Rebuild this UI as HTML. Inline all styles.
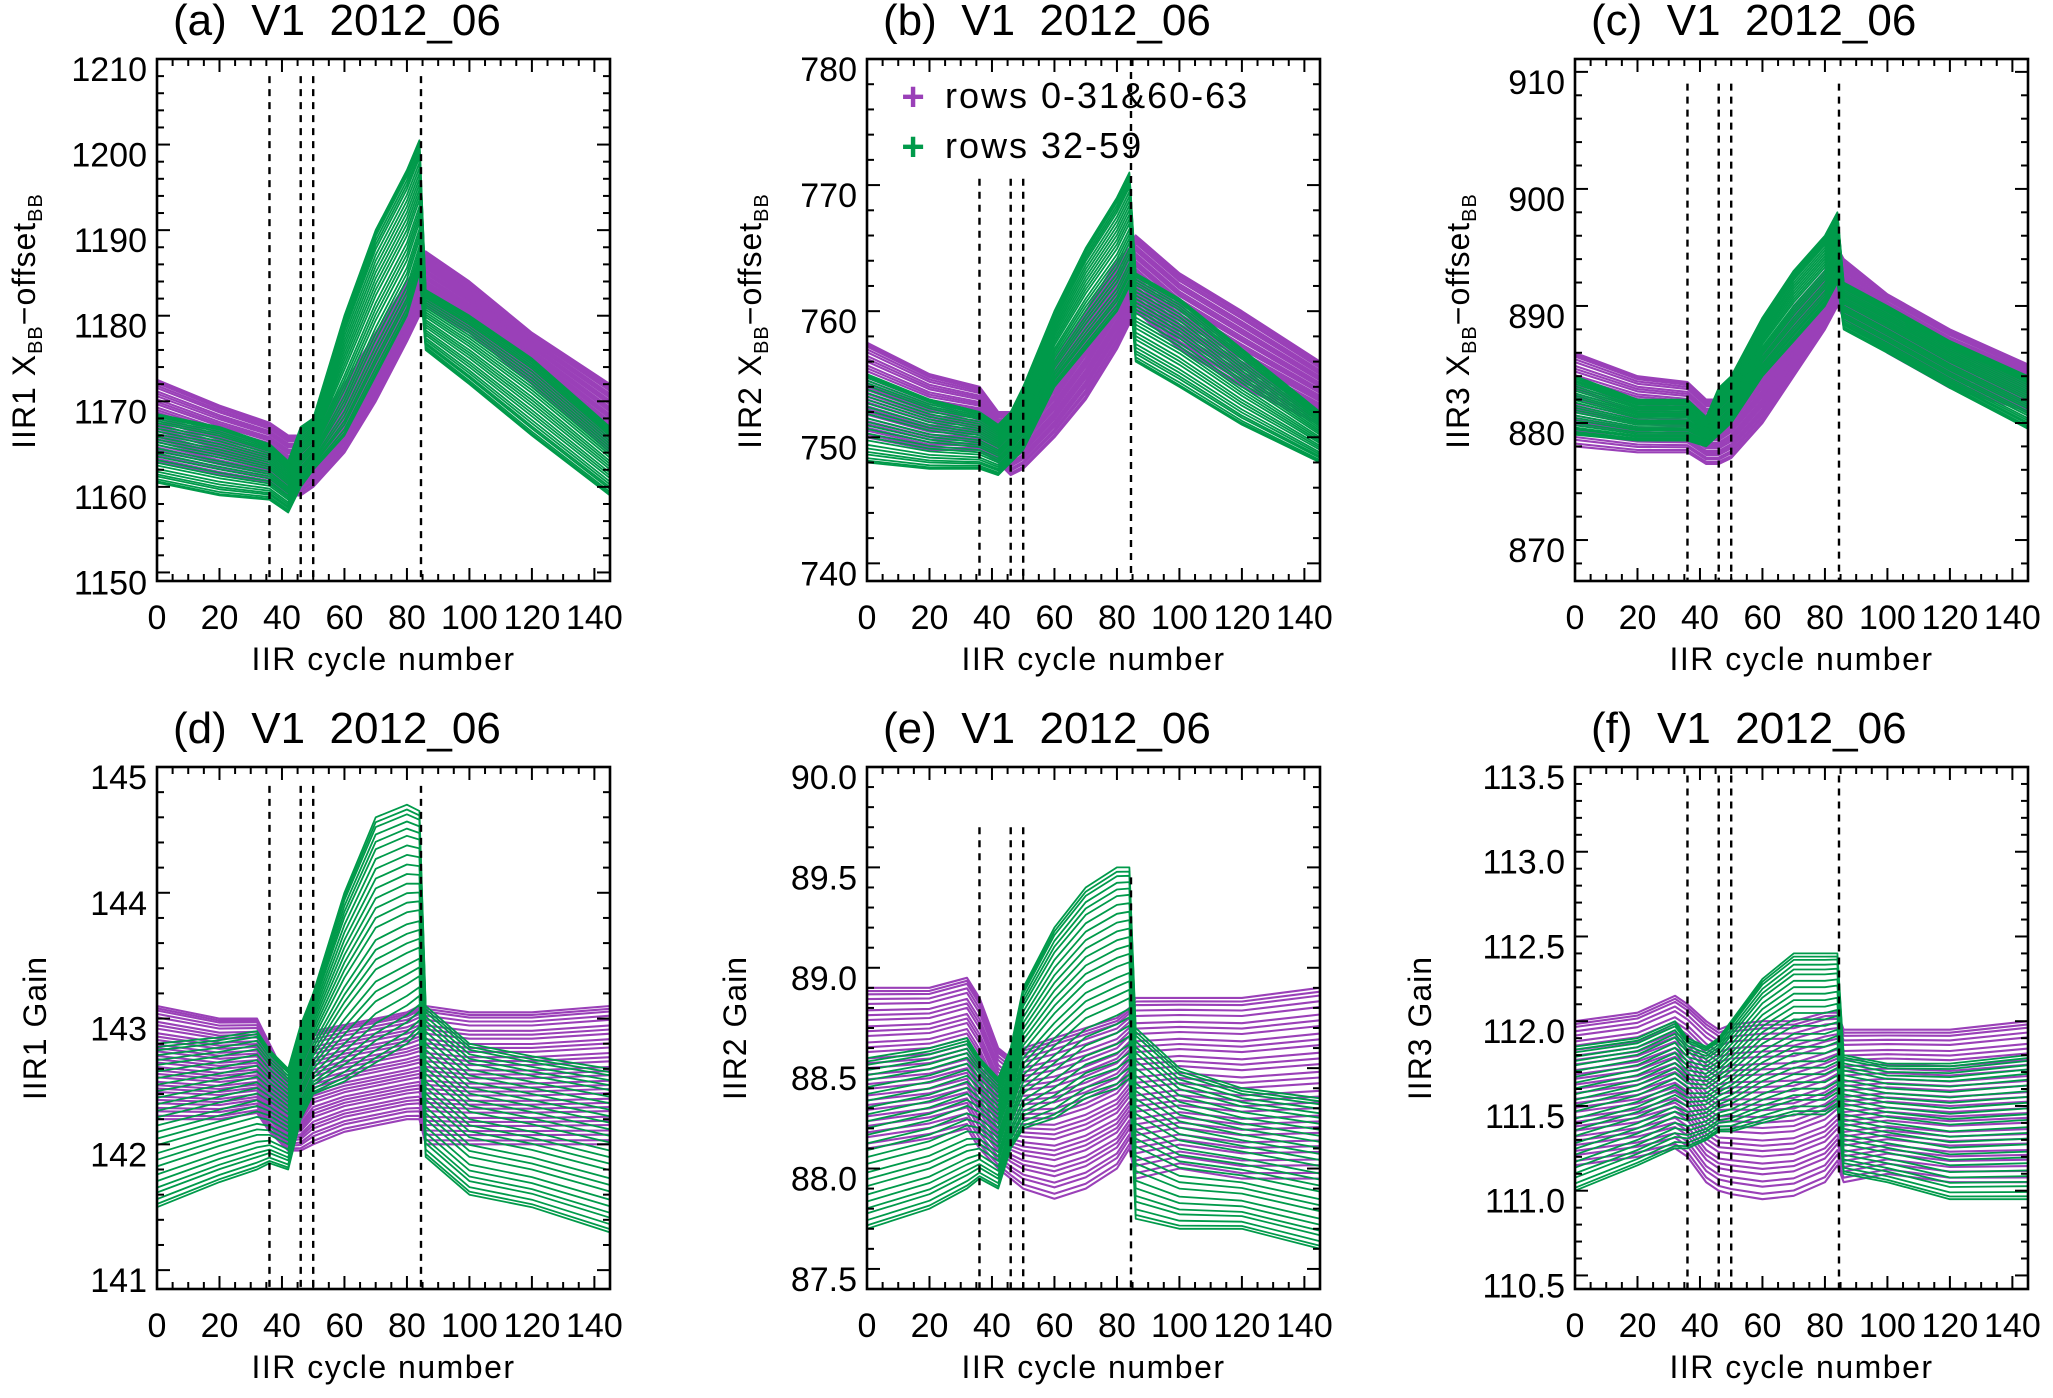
<!DOCTYPE html>
<html><head><meta charset="utf-8">
<style>
html,body{margin:0;padding:0;background:#fff;}
svg{display:block;font-family:"Liberation Sans",sans-serif;}
</style></head>
<body>
<svg id="fig" width="2053" height="1398" viewBox="0 0 2053 1398" xmlns="http://www.w3.org/2000/svg">
<rect x="0" y="0" width="2053" height="1398" fill="#fff"/>
</svg>
<script>
// ---------- data ----------
const xKeysTop = [0,20,36,42,46,50,60,70,80,84,86,100,120,145];
const xKeysBot = [0,20,32,36,42,46,50,60,70,80,84,86,100,120,145];

const aPurpleTop = [1172.5,1169.5,1167.5,1166,1166,1167,1172,1178,1184,1186,1187.5,1184,1178,1172];
const aPurpleBot = [1163,1161.5,1160.5,1159,1159,1160,1164,1170,1177,1180,1181,1178,1172,1164];
const aGreenTop  = [1168.5,1167,1165,1163,1167,1168,1180,1190,1197,1200.5,1183,1180,1175,1167];
const aGreenBot  = [1160.5,1159,1158.5,1157,1160,1162,1166,1173,1180,1185,1176,1172,1166,1159];

const bPurpleTop = [757.5,755,754,752,752,753,756,760,764,765,766,763,760,756];
const bPurpleBot = [750,749,749,748,747,747.5,750,753,757,759,760,757,754,751];
const bGreenTop  = [755,753,752,751,752,754,760,765,769,771,763,761,757,752];
const bGreenBot  = [748,747.5,747.5,747,748,749,754,757,760,762,756,754,751,748];

const cPurpleTop = [886,884,883.5,882,882,883,886,890,893,895,894,891,888,885];
const cPurpleBot = [878,877.5,877.5,876.5,876.5,877,880,884,888,890,889,886,883,881];
const cGreenTop  = [884,882,882,880.5,883,884,889,893,896,898,892,890,887,884];
const cGreenBot  = [879,878.5,878.5,878,879,880,884,887,890,892,888,886,883,879.5];

const dPurpleTop = [143.1,143.0,143.0,142.8,142.5,142.6,142.9,142.95,143.0,143.05,143.1,143.1,143.05,143.05,143.1];
const dPurpleBot = [142.2,142.2,142.25,142.1,141.95,141.95,142.0,142.1,142.15,142.2,142.2,142.0,142.0,142.0,142.0];
const dGreenTop  = [142.8,142.85,142.9,142.75,142.6,142.95,143.2,144.0,144.6,144.7,144.65,143.1,142.8,142.7,142.6];
const dGreenBot  = [141.5,141.7,141.8,141.85,141.8,142.2,142.4,142.5,142.65,142.8,142.9,141.9,141.6,141.5,141.3];

const ePurpleTop = [88.9,88.9,88.95,88.85,88.6,88.55,88.6,88.65,88.7,88.75,88.8,88.85,88.85,88.85,88.9];
const ePurpleBot = [88.1,88.15,88.2,88.1,88.0,87.95,87.9,87.85,87.9,88.0,88.1,87.95,88.0,87.95,87.95];
const eGreenTop  = [88.55,88.6,88.65,88.55,88.45,88.6,88.9,89.2,89.4,89.5,89.5,88.7,88.5,88.4,88.35];
const eGreenBot  = [87.7,87.8,87.9,87.95,87.9,88.1,88.2,88.25,88.35,88.4,88.45,87.75,87.7,87.7,87.6];

const fPurpleTop = [112.0,112.05,112.15,112.1,112.0,111.95,111.98,112.0,112.0,112.05,112.05,111.95,111.95,111.95,112.0];
const fPurpleBot = [111.15,111.2,111.25,111.2,111.05,111.0,110.98,110.95,110.97,111.05,111.15,111.05,111.1,111.05,111.05];
const fGreenTop  = [111.85,111.9,112.0,111.9,111.85,111.9,112.0,112.25,112.4,112.4,112.4,111.8,111.75,111.75,111.8];
const fGreenBot  = [111.0,111.15,111.25,111.25,111.3,111.35,111.35,111.4,111.45,111.45,111.5,111.1,111.05,110.95,110.95];

// row positions within each band (0 = bottom envelope, 1 = top envelope)
const purpleRows = [0,0.03,0.07,0.1,0.14,0.17,0.2,0.24,0.27,0.3,0.33,0.37,0.4,0.43,0.46,0.5,0.53,0.56,0.6,0.63,0.66,0.7,0.73,0.76,0.8,0.83,0.86,0.9,0.93,0.96,0.98,1];
const greenRows  = [0,0.02,0.05,0.09,0.12,0.16,0.2,0.25,0.29,0.33,0.38,0.42,0.46,0.5,0.55,0.59,0.63,0.67,0.71,0.75,0.79,0.83,0.87,0.9,0.93,0.96,0.98,1];

const dashedCycles = [36,46,50,84.5];
const xTickLabels = ["0","20","40","60","80","100","120","140"];

const panels = [
 {id:'a',col:0,row:0,ymin:1149,ymax:1210,major:10,minor:2,fmt:0,keys:xKeysTop,pt:aPurpleTop,pb:aPurpleBot,gt:aGreenTop,gb:aGreenBot,dash:1208,ylab:'IIR1',yoff:-122},
 {id:'b',col:1,row:0,ymin:738.6,ymax:780,major:10,minor:2,fmt:0,keys:xKeysTop,pt:bPurpleTop,pb:bPurpleBot,gt:bGreenTop,gb:bGreenBot,dash:770.5,ylab:'IIR2',yoff:-106},
 {id:'c',col:2,row:0,ymin:866.5,ymax:911.1,major:10,minor:2,fmt:0,keys:xKeysTop,pt:cPurpleTop,pb:cPurpleBot,gt:cGreenTop,gb:cGreenBot,dash:909,ylab:'IIR3',yoff:-106},
 {id:'d',col:0,row:1,ymin:140.85,ymax:145,major:1,minor:0.2,fmt:0,keys:xKeysBot,pt:dPurpleTop,pb:dPurpleBot,gt:dGreenTop,gb:dGreenBot,dash:144.85,ylab:'IIR1',yoff:-111},
 {id:'e',col:1,row:1,ymin:87.4,ymax:90,major:0.5,minor:0.1,fmt:1,keys:xKeysBot,pt:ePurpleTop,pb:ePurpleBot,gt:eGreenTop,gb:eGreenBot,dash:89.7,ylab:'IIR2',yoff:-121},
 {id:'f',col:2,row:1,ymin:110.42,ymax:113.5,major:0.5,minor:0.1,fmt:1,keys:xKeysBot,pt:fPurpleTop,pb:fPurpleBot,gt:fGreenTop,gb:fGreenBot,dash:113.45,ylab:'IIR3',yoff:-144}
];

// ---------- layout ----------
const NS='http://www.w3.org/2000/svg';
const svg=document.getElementById('fig');
const colL=[157,867,1575], W=453;
const rowT=[59,767], H=522;
const XMIN=0,XMAX=145;
const PURPLE='#9a40b8', GREEN='#009a4a';

function mk(tag,attrs,parent){const e=document.createElementNS(NS,tag);for(const k in attrs)e.setAttribute(k,attrs[k]);(parent||svg).appendChild(e);return e;}

panels.forEach(p=>{
  const L=colL[p.col],T=rowT[p.row],R=L+W,B=T+H;
  const sx=v=>L+(v-XMIN)/(XMAX-XMIN)*W;
  const sy=v=>B-(v-p.ymin)/(p.ymax-p.ymin)*H;
  const g=mk('g',{});
  
  

  const lines=mk('g',{},g);
  
  
  function band(top,bot,rows,color,name,w){
    rows.forEach((f,i)=>{
      let d='';
      p.keys.forEach((x,k)=>{const v=bot[k]+(top[k]-bot[k])*f;d+=(k?'L':'M')+sx(x).toFixed(1)+' '+sy(v).toFixed(1);});
      const path=mk('path',{d:d,fill:'none',stroke:color,'stroke-width':w,'stroke-linejoin':'round'},lines);
      
      
    });
  }
  band(p.pt,p.pb,purpleRows,PURPLE,'purple-row',2.1);
  band(p.gt,p.gb,greenRows,GREEN,'green-row',1.8);

  dashedCycles.forEach((c,i)=>{
    const top=(p.id==='b'&&i===3)?p.ymax:(p.id==='e'&&i===3)?89.45:p.dash;
    const dl=mk('line',{x1:sx(c),x2:sx(c),y1:sy(top),y2:B,stroke:'#000','stroke-width':2.4,'stroke-dasharray':'7 6'},g);
    
    
  });

  const fr=mk('rect',{x:L,y:T,width:W,height:H,fill:'none',stroke:'#000','stroke-width':2.6},g);
  
  

  for(let v=0;v<=XMAX+0.01;v+=5){
    const len=(v%20===0)?13:7, X=sx(v);
    mk('line',{x1:X,x2:X,y1:B,y2:B-len,stroke:'#000','stroke-width':2},g);
    mk('line',{x1:X,x2:X,y1:T,y2:T+len,stroke:'#000','stroke-width':2},g);
  }
  xTickLabels.forEach((s,i)=>{
    const t=mk('text',{x:sx(i*20),y:B+48,'font-size':34,'text-anchor':'middle',fill:'#000'},g);
    t.textContent=s;
    
    
  });
  const xt=mk('text',{x:L+W/2,y:B+89,'font-size':32,'text-anchor':'middle',fill:'#000','letter-spacing':1.5},g);
  xt.textContent='IIR cycle number';
  
  

  const eps=1e-6;
  const start=Math.ceil(p.ymin/p.minor-eps)*p.minor;
  for(let v=start;v<=p.ymax+eps;v+=p.minor){
    const isMaj=Math.abs(v/p.major-Math.round(v/p.major))<1e-4;
    const len=isMaj?13:7, Y=sy(v);
    mk('line',{x1:L,x2:L+len,y1:Y,y2:Y,stroke:'#000','stroke-width':2},g);
    mk('line',{x1:R,x2:R-len,y1:Y,y2:Y,stroke:'#000','stroke-width':2},g);
    if(isMaj){
      const t=mk('text',{x:L-10,y:Y+22,'font-size':34,'text-anchor':'end',fill:'#000'},g);
      t.textContent=(Math.round(v*10)/10).toFixed(p.fmt);
      
      
    }
  }

  const cy=p.row===0?321:1028, cx=L+p.yoff;
  const yt=mk('text',{x:0,y:0,'font-size':32,'text-anchor':'middle',fill:'#000','letter-spacing':1,transform:`translate(${cx},${cy}) rotate(-90)`},g);
  
  
  if(p.row===0){
    yt.innerHTML=p.ylab+' X<tspan font-size="20" dy="7">BB</tspan><tspan dy="-7">−offset</tspan><tspan font-size="20" dy="7">BB</tspan>';
  } else {
    yt.textContent=p.ylab+' Gain';
  }

  const tt=mk('text',{x:L+16,y:T-24,'font-size':44,fill:'#000',style:'white-space:pre'},g);
  tt.textContent='('+p.id+')  V1  2012_06';
  
  
});

const leg=mk('g',{});


[[PURPLE,'rows 0-31&60-63',97],[GREEN,'rows 32-59',147]].forEach(([c,s,y],i)=>{
  const pl=mk('text',{x:913,y:y+13,'font-size':40,'font-weight':'bold','text-anchor':'middle',fill:c},leg);
  pl.textContent='+';
  
  
  const t=mk('text',{x:945,y:y+11,'font-size':36,fill:'#000','letter-spacing':2},leg);
  t.textContent=s;
  
  
});
</script>
</body></html>
